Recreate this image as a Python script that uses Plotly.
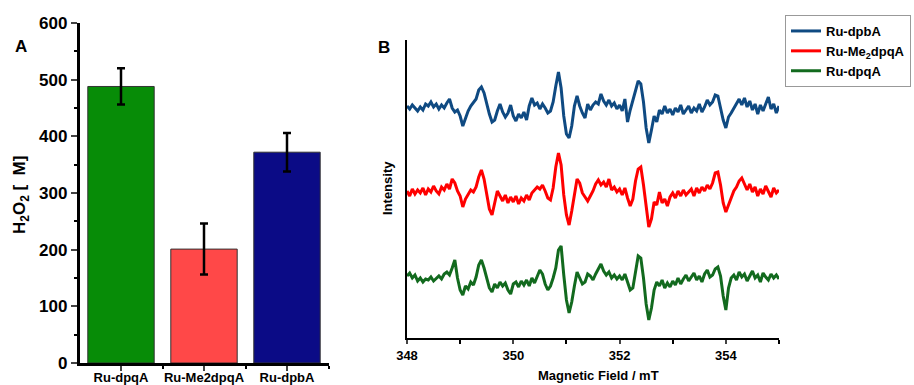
import plotly.graph_objects as go

# ---------------- Panel A data ----------------
categories = ["Ru-dpqA", "Ru-Me2dpqA", "Ru-dpbA"]
h2o2_values = [488, 201, 372]
h2o2_errors = [32, 45, 34]
bar_colors = ["#078c07", "#ff4848", "#0b0b86"]

# ---------------- Panel B data ----------------
field_start = 348.0   # mT
field_step = 0.05     # mT
series_names = ["Ru-dpbA", "Ru-Me<sub>2</sub>dpqA", "Ru-dpqA"]
line_colors = ["#0f4a82", "#ff0000", "#126a1e"]
trace_offsets = [230, 145, 58]

dpbA = [2, -1, 3, 0, -3, 1, -2, 4, 2, 6,
        1, 4, -1, 3, 0, 5, 9, 0, -4, -2,
        -8, -18, -10, -3, 2, 5, 9, 18, 21, 15,
        3, -6, -14, -12, -3, 4, -4, -9, -5, 3,
        -8, -13, -6, -10, -4, -12, 2, 10, 3, 5,
        -1, 4, 0, -5, -3, 6, 22, 36, 20, -8,
        -26, -30, -18, 2, 12, 2, -5, -10, 4, -2,
        3, 6, 4, 14, 7, 3, 8, 2, 5, -1,
        3, -3, 9, -14, -2, 8, 18, 27, 24, 6,
        -20, -35, -22, -8, -14, -2, -6, 2, -5, -1,
        -7, 0, -4, 3, -6, -2, 2, -5, 0, -3,
        4, -4, 1, 8, 3, 6, 13, 12, 0, -12,
        -20, -9, -5, 0, 4, 9, 3, 10, 1, 7,
        -2, 4, -6, 3, -3, 5, 11, -1, 4, -5, 2]

me2dpqA = [2, -3, 4, -1, 3, 0, 5, -2, 4, 1,
           7, 2, -1, 6, 3, 9, 4, 14, 10, 2,
           -3, -14, -6, -1, 3, 1, 6, 16, 23, 14,
           0, -16, -22, -8, 2, -3, -8, -2, -10, -4,
           -9, -3, -11, -5, -8, -2, -7, 0, 3, 6,
           4, 8, 2, -5, -7, 5, 26, 40, 28, -2,
           -22, -32, -18, -2, 14, 10, 0, -4, -8, -3,
           2, 9, 13, 8, 11, 6, 14, 3, 6, 1,
           4, -2, 5, -5, -13, -6, 12, 24, 26, 8,
           -16, -34, -26, -9, -12, 1, -10, -6, -13, -4,
           0, -5, 2, -3, 3, -2, 1, 4, -3, 5,
           0, 6, 2, 8, 4, 10, 20, 21, 8, -10,
           -19, -12, -4, 2, 6, 12, 15, 8, 3, 9,
           1, 6, -3, 4, -1, 7, 2, -4, 5, 0, 3]

dpqA = [4, 7, 2, 5, -1, 2, -2, 1, 0, 3,
        -1, 2, 4, 1, 6, 8, 5, 12, 20, 2,
        -10, -15, -6, -9, -2, -5, 3, 15, 20, 12,
        3, -8, -12, -4, -8, -2, -6, -3, -10, -14,
        -4, -2, -7, -1, -5, 0, -6, 2, -3, 4,
        10, 6, -4, -10, -6, 2, 12, 30, 34, 5,
        -20, -33, -22, -6, 8, 2, -4, -2, 6, 4,
        0, 6, 11, 16, 9, 5, 8, 2, 5, 1,
        4, 0, 6, -2, -10, -8, 10, 24, 22, 2,
        -24, -40, -28, -10, -2, -6, 0, -8, -3, -7,
        -1, -5, 2, -4, 1, 5, -1, 3, 7, 0,
        4, -2, 6, 10, 3, 5, 11, 13, 4, -16,
        -30, -8, 2, 5, 0, 8, 3, 6, -1, 4,
        9, 2, 5, -2, 7, 3, 0, 6, 2, 5, 1]

field_ticks = [348, 350, 352, 354]

FONT = "Liberation Sans, Arial, sans-serif"
W, H = 914, 385

def px(x):
    return x / W

def py(y):
    return 1 - y / H

fig = go.Figure()

cat_pos = list(range(len(categories)))
fig.add_trace(go.Bar(
    x=cat_pos, y=h2o2_values, width=0.8,
    marker=dict(color=bar_colors, line=dict(color="#333333", width=1)),
    error_y=dict(type="data", array=h2o2_errors, visible=True,
                 color="black", thickness=2.5, width=4),
    showlegend=False, xaxis="x", yaxis="y",
))

spectra = [dpbA, me2dpqA, dpqA]
for name, color, off, vals in zip(series_names, line_colors, trace_offsets, spectra):
    field = [round(field_start + field_step * i, 3) for i in range(len(vals))]
    fig.add_trace(go.Scatter(
        x=field, y=[v + off for v in vals], mode="lines", name=name,
        line=dict(color=color, width=3), xaxis="x2", yaxis="y2",
    ))

bold13 = dict(family=FONT, size=13, color="black", weight="bold")
bold17 = dict(family=FONT, size=17, color="black", weight="bold")

def label(text, x, y, font, angle=0):
    return dict(text=text, x=px(x), y=py(y), xref="paper", yref="paper",
                xanchor="center", yanchor="middle", textangle=angle,
                showarrow=False, font=font)

fig.update_layout(
    width=W, height=H,
    margin=dict(l=0, r=0, t=0, b=0, autoexpand=False),
    paper_bgcolor="white", plot_bgcolor="white",
    font=dict(family=FONT, color="black"),
    xaxis=dict(
        domain=[px(79.5), px(328.5)], anchor="y", range=[-0.5, 2.5],
        tickmode="array", tickvals=cat_pos, ticktext=categories,
        tickfont=bold13, ticks="outside", ticklen=5, tickwidth=2,
        ticklabelstandoff=-4,
        showline=True, linecolor="black", linewidth=2.5,
        showgrid=False, zeroline=False, automargin=False,
        minor=dict(tickmode="array", tickvals=[0.5, 1.5, 2.5],
                   ticks="outside", ticklen=3, tickwidth=2, tickcolor="black"),
    ),
    yaxis=dict(
        domain=[py(363), py(23)], anchor="x", range=[0, 600],
        dtick=100, tickfont=bold17, ticks="outside", ticklen=6, tickwidth=2,
        showline=True, linecolor="black", linewidth=2.5,
        showgrid=False, zeroline=False, automargin=False,
        minor=dict(dtick=50, ticks="outside", ticklen=3, tickwidth=2, tickcolor="black"),
    ),
    xaxis2=dict(
        domain=[px(407), px(779)], anchor="y2", range=[348, 355],
        tickmode="array", tickvals=field_ticks, tickfont=bold13,
        ticks="outside", ticklen=4, tickwidth=2,
        showline=True, linecolor="black", linewidth=2,
        showgrid=False, zeroline=False, automargin=False,
        minor=dict(dtick=1, ticks="outside", ticklen=4, tickwidth=2, tickcolor="black"),
    ),
    yaxis2=dict(
        domain=[py(338), py(40)], anchor="x2", range=[0, 298],
        showticklabels=False, ticks="",
        showline=True, linecolor="black", linewidth=2,
        showgrid=False, zeroline=False, automargin=False,
    ),
    legend=dict(
        x=px(785), y=py(15), xanchor="left", yanchor="top",
        bordercolor="#999999", borderwidth=1, bgcolor="white",
        font=bold13, itemwidth=30, tracegroupgap=0,
    ),
    annotations=[
        label("A", 21, 46, bold17),
        label("B", 384, 47, bold17),
        label("H<sub>2</sub>O<sub>2</sub> [  M]", 21, 195, bold17, -90),
        label("Intensity", 388, 188, bold13, -90),
        label("Magnetic Field / mT", 598, 375, bold13),
    ],
)

fig.write_html(
    "out.html",
    config={"displayModeBar": False},
    post_script="document.body.style.margin='0';document.body.style.overflow='hidden';",
)
